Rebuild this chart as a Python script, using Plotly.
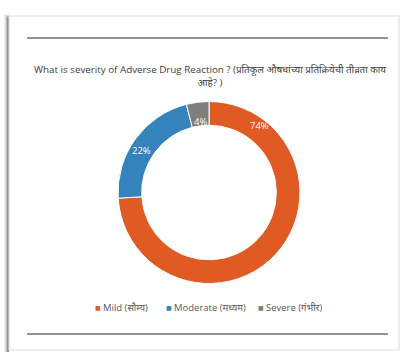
import plotly.graph_objects as go

# Survey result: severity of adverse drug reactions
categories = ["Mild (सौम्य)", "Moderate (मध्यम)", "Severe (गंभीर)"]
percentages = [74, 22, 4]
slice_colors = ["#E05A24", "#3483BD", "#7F7F7F"]
title_text = ("What is severity of Adverse Drug Reaction ? (प्रतिकूल औषधांच्या प्रतिक्रियेची तीव्रता काय"
              "<br>आहे? )")

W, H = 403, 354
FONT = "Open Sans, Noto Sans, Liberation Sans, sans-serif"


def px(x):
    return x / W


def py(y):
    return 1 - y / H


fig = go.Figure()

fig.add_trace(go.Pie(
    labels=categories,
    values=percentages,
    marker=dict(colors=slice_colors, line=dict(color="#FFFFFF", width=1)),
    hole=0.74,
    sort=False,
    direction="clockwise",
    rotation=0,
    textinfo="none",
    hoverinfo="label+percent",
    showlegend=False,
    domain=dict(x=[px(118), px(300)], y=[py(284), py(101)]),
))

# Percentage labels on the ring
label_pos = [(259, 125), (141, 150), (200, 113)]
annotations = []
for v, (lx, ly) in zip(percentages, label_pos):
    annotations.append(dict(
        x=px(lx), y=py(ly), xref="paper", yref="paper",
        text=f"{v}%", showarrow=False,
        font=dict(family=FONT, size=9.5, color="#FFFFFF"),
    ))

annotations.append(dict(
    x=px(210), y=py(61), xref="paper", yref="paper", yanchor="top",
    text=title_text, showarrow=False, align="center",
    font=dict(family=FONT, size=9.8, color="#404040"),
))

# Compact legend row: small colour square followed by the category name
legend_x = [93, 164, 256]
for cat, col, lx in zip(categories, slice_colors, legend_x):
    annotations.append(dict(
        x=px(lx), y=py(307), xref="paper", yref="paper",
        xanchor="left", yanchor="middle", showarrow=False,
        text="■", font=dict(family="DejaVu Sans", size=6, color=col),
    ))
    annotations.append(dict(
        x=px(lx + 8), y=py(307), xref="paper", yref="paper",
        xanchor="left", yanchor="middle", showarrow=False,
        text=cat, font=dict(family=FONT, size=9.5, color="#595959"),
    ))

shapes = []
# soft shadow along the card's left edge
for i, op in enumerate([0.05, 0.09, 0.14, 0.2]):
    shapes.append(dict(type="rect", xref="paper", yref="paper",
                       x0=px(4 + i), x1=px(9), y0=py(352), y1=py(14 + i),
                       line=dict(width=0), fillcolor=f"rgba(0,0,0,{op})", layer="below"))
# card
shapes.append(dict(type="rect", xref="paper", yref="paper",
                   x0=px(9), x1=px(399), y0=py(350), y1=py(16),
                   line=dict(color="#D9D9D9", width=1), fillcolor="#FFFFFF", layer="below"))
# rules above and below the chart
for yy in (38, 334):
    shapes.append(dict(type="line", xref="paper", yref="paper",
                       x0=px(27), x1=px(388), y0=py(yy), y1=py(yy),
                       line=dict(color="#6E6E6E", width=1.5)))

fig.update_layout(
    width=W, height=H,
    margin=dict(l=0, r=0, t=0, b=0),
    paper_bgcolor="#FFFFFF",
    plot_bgcolor="#FFFFFF",
    showlegend=False,
    annotations=annotations,
    shapes=shapes,
)

fig.write_html("out.html")
